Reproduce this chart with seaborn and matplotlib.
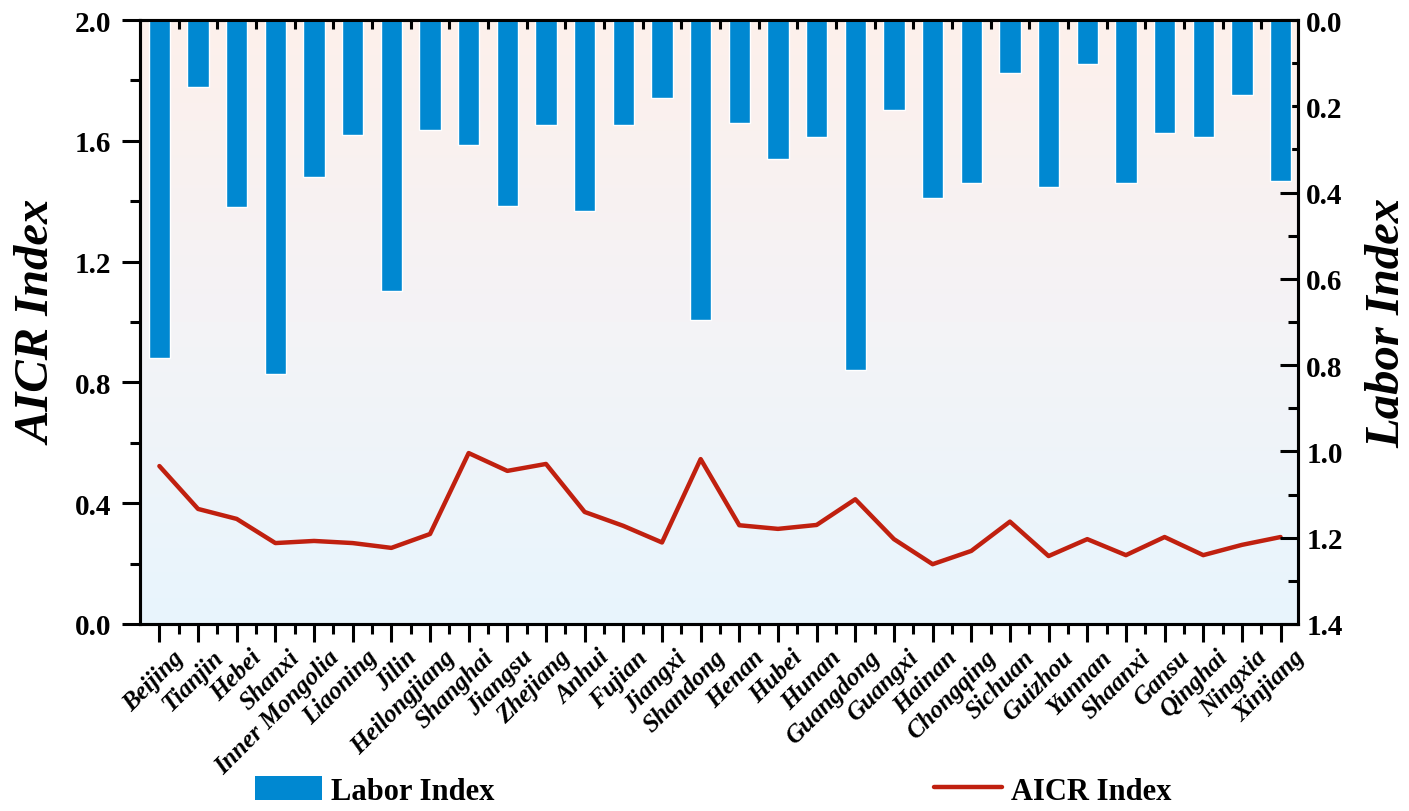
import numpy as np
import pandas as pd
import seaborn as sns
import matplotlib.pyplot as plt
import matplotlib.transforms as mtransforms
from matplotlib.colors import LinearSegmentedColormap
from matplotlib.ticker import MultipleLocator
from matplotlib.lines import Line2D
from matplotlib.patches import Patch

provinces = ['Beijing', 'Tianjin', 'Hebei', 'Shanxi', 'Inner Mongolia', 'Liaoning',
             'Jilin', 'Heilongjiang', 'Shanghai', 'Jiangsu', 'Zhejiang', 'Anhui',
             'Fujian', 'Jiangxi', 'Shandong', 'Henan', 'Hubei', 'Hunan', 'Guangdong',
             'Guangxi', 'Hainan', 'Chongqing', 'Sichuan', 'Guizhou', 'Yunnan',
             'Shaanxi', 'Gansu', 'Qinghai', 'Ningxia', 'Xinjiang']
labor = [0.784, 0.155, 0.434, 0.820, 0.364, 0.267, 0.628, 0.255, 0.290, 0.431,
         0.243, 0.443, 0.243, 0.181, 0.695, 0.238, 0.323, 0.270, 0.812, 0.208,
         0.412, 0.377, 0.123, 0.388, 0.103, 0.377, 0.263, 0.272, 0.173, 0.374]
aicr = [0.523, 0.381, 0.348, 0.268, 0.275, 0.268, 0.252, 0.298, 0.566, 0.507,
        0.530, 0.371, 0.325, 0.270, 0.546, 0.327, 0.315, 0.328, 0.413, 0.281,
        0.198, 0.242, 0.339, 0.225, 0.281, 0.228, 0.288, 0.228, 0.262, 0.288]

df = pd.DataFrame({'Province': provinces, 'Labor': labor, 'AICR': aicr,
                   'pos': np.arange(len(provinces))})

sns.set_style('ticks')
plt.rcParams['font.family'] = ['Liberation Serif', 'DejaVu Serif']
plt.rcParams['font.weight'] = 'bold'
for k in ('text.color', 'axes.labelcolor', 'xtick.color', 'ytick.color',
          'axes.edgecolor'):
    plt.rcParams[k] = 'black'

fig = plt.figure(figsize=(14.09, 8.12), dpi=100)
ax = fig.add_axes([0.0994, 0.2303, 0.8218, 0.7438])
ax2 = ax.twinx()

# background gradient
cmap = LinearSegmentedColormap.from_list('bg', ['#fdf0eb', '#f4f3f6', '#e8f5fd'])
grad = np.linspace(0, 1, 256).reshape(-1, 1)
ax.imshow(grad, cmap=cmap, aspect='auto', extent=[0, 1, 0, 1],
          transform=ax.transAxes, zorder=0)

blue = '#0088d1'
red = '#c0200f'

sns.lineplot(data=df, x='pos', y='AICR', ax=ax, color=red, linewidth=3.2, zorder=3)
sns.barplot(data=df, x='Province', y='Labor', ax=ax2, color=blue, width=0.55,
            saturation=1, zorder=2)

n = len(provinces)
ax.set_xlim(-0.5, n - 0.55)
ax.set_ylim(0, 2.0)
ax2.set_ylim(1.4, 0)

ax.yaxis.set_major_locator(MultipleLocator(0.4))
ax.yaxis.set_minor_locator(MultipleLocator(0.2))
ax2.yaxis.set_major_locator(MultipleLocator(0.2))
ax2.yaxis.set_minor_locator(MultipleLocator(0.1))
ax.set_yticklabels([f'{v:.1f}' for v in ax.get_yticks()])
ax2.set_yticklabels([f'{v:.1f}' for v in ax2.get_yticks()])

ax.tick_params(axis='x', which='major', direction='out', length=13, width=2.2, pad=3)
ax.tick_params(axis='x', which='minor', direction='out', length=7, width=2.2)
ax.tick_params(axis='y', which='major', direction='out', length=13, width=2.2,
               labelsize=21, pad=8)
ax.tick_params(axis='y', which='minor', direction='out', length=7, width=2.2)
ax2.tick_params(axis='y', which='major', direction='in', length=13, width=2.2,
                labelsize=21, pad=6)
ax2.tick_params(axis='y', which='minor', direction='in', length=7, width=2.2)

ax.set_xticks(np.arange(n))
ax.set_xticks(np.arange(n - 1) + 0.5, minor=True)
ax.set_xticklabels(provinces, rotation=45, ha='right', rotation_mode='anchor',
                   fontsize=18, fontstyle='italic', fontweight='bold')

# top ticks pointing inward
ax2.xaxis.set_visible(True)
ax2.set_xticks(np.arange(n))
ax2.set_xticks(np.arange(n - 1) + 0.5, minor=True)
ax2.tick_params(axis='x', which='both', bottom=False, top=True, labelbottom=False,
                labeltop=False, direction='in', width=2.2)
ax2.tick_params(axis='x', which='major', length=13)
ax2.tick_params(axis='x', which='minor', length=6.5)
ax2.set_xlabel('')

# nudge the slanted labels to the right, as in the original
shift = mtransforms.ScaledTranslation(0.13, 0.01, fig.dpi_scale_trans)
for lab in ax.get_xticklabels():
    lab.set_transform(lab.get_transform() + shift)

for a in (ax, ax2):
    for s in a.spines.values():
        s.set_linewidth(2.2)
        s.set_visible(True)

ax.set_xlabel('')
ax.set_ylabel('AICR Index', fontsize=35, fontstyle='italic', fontweight='bold',
              labelpad=10)
ax2.set_ylabel('Labor Index', fontsize=35, fontstyle='italic', fontweight='bold',
               labelpad=16)

handles = [Patch(facecolor=blue, edgecolor='none'),
           Line2D([0], [0], color=red, linewidth=3.2)]
fig.legend(handles, ['Labor Index', 'AICR Index'], loc='center',
           bbox_to_anchor=(0.506, 0.025), ncol=2, frameon=False, fontsize=22,
           columnspacing=14.4, handlelength=2.2, handleheight=0.85,
           handletextpad=0.3)

fig.savefig('out.png', dpi=100)
